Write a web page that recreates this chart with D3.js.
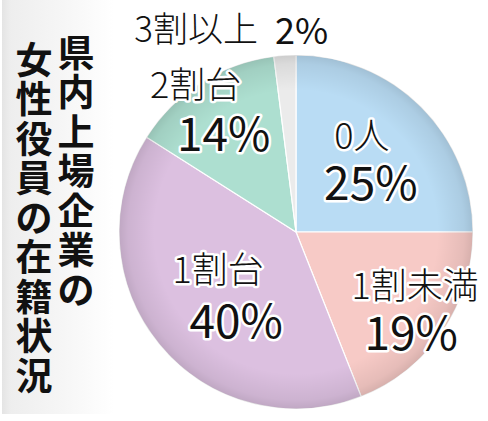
<!DOCTYPE html>
<html>
<head>
<meta charset="utf-8">
<script src="https://cdn.jsdelivr.net/npm/d3@7"></script>
<style>
  html, body { margin: 0; padding: 0; background: #fff; }
  svg { display: block; }
  text { font-family: "Noto Sans CJK JP", "Noto Sans", sans-serif; }
</style>
</head>
<body>
<div id="chart"></div>
<script>
// 県内上場企業の女性役員の在籍状況
const categories = ["0人", "1割未満", "1割台", "2割台", "3割以上"];
const shares = [25, 19, 40, 14, 2];
const sliceColors = ["#b9dcf4", "#f7cac6", "#dcc0e0", "#addfd0", "#ebebeb"];
const titleLines = ["県内上場企業の", "女性役員の在籍状況"];

const width = 488, height = 421;
const cx = 296, cy = 232, radius = 177;

// label layout: radius of anchor + shift of name / percent text
const labelLayout = [
  {r: 103, name: [-7, -26], pct: [2, 21]},
  {r: 138, name: [5, -27], pct: [1, 20]},
  {r: 92,  name: [-7, -24], pct: [11, 27]},
  {r: 150, name: [-20, -23], pct: [8, 26]},
  {r: 206, name: [-25, 0], pct: [-8, 2], inline: true}
];

const svg = d3.select("#chart").append("svg")
    .attr("width", width)
    .attr("height", height);

const defs = svg.append("defs");

// pale strip behind the title
let strip = defs.append("linearGradient").attr("id", "strip")
    .attr("x1", 0).attr("x2", 1).attr("y1", 0).attr("y2", 0);
strip.append("stop").attr("offset", "0%").attr("stop-color", "#e4e4e4");
strip.append("stop").attr("offset", "8%").attr("stop-color", "#eeeeee");
strip.append("stop").attr("offset", "55%").attr("stop-color", "#f6f6f6");
strip.append("stop").attr("offset", "100%").attr("stop-color", "#ffffff");

svg.append("rect")
    .attr("x", 2).attr("y", 0)
    .attr("width", 112).attr("height", 414)
    .attr("fill", "url(#strip)");

// rim shading of the pie
let rim = defs.append("radialGradient").attr("id", "rim");
rim.append("stop").attr("offset", "80%").attr("stop-color", "#000").attr("stop-opacity", 0);
rim.append("stop").attr("offset", "95%").attr("stop-color", "#000").attr("stop-opacity", 0.07);
rim.append("stop").attr("offset", "100%").attr("stop-color", "#000").attr("stop-opacity", 0.13);

const data = categories.map((c, i) => ({cat: c, value: shares[i], color: sliceColors[i]}));

const pie = d3.pie()
    .value(d => d.value)
    .sort(null);

const arcs = pie(data);

const arc = d3.arc()
    .innerRadius(0)
    .outerRadius(radius);

const g = svg.append("g").attr("transform", `translate(${cx},${cy})`);

g.selectAll("path.slice")
  .data(arcs)
  .enter().append("path")
    .attr("class", "slice")
    .attr("d", arc)
    .attr("fill", d => d.data.color)
    .attr("stroke", "#ffffff")
    .attr("stroke-width", 1.2);

g.append("circle")
    .attr("r", radius)
    .attr("fill", "url(#rim)")
    .style("pointer-events", "none");

// labels
const labels = g.selectAll("g.label")
  .data(arcs)
  .enter().append("g")
    .attr("class", "label")
    .attr("transform", (d, i) => {
      let r = labelLayout[i].r;
      let c = d3.arc().innerRadius(r).outerRadius(r).centroid(d);
      return `translate(${c[0]},${c[1]})`;
    });

function haloText(sel) {
  sel.attr("fill", "#111")
     .attr("stroke", "#ffffff")
     .attr("stroke-width", 5)
     .attr("stroke-linejoin", "round")
     .attr("paint-order", "stroke")
     .attr("dominant-baseline", "central");
}

labels.append("text")
    .attr("x", (d, i) => labelLayout[i].name[0])
    .attr("y", (d, i) => labelLayout[i].name[1])
    .attr("text-anchor", (d, i) => labelLayout[i].inline ? "end" : "middle")
    .attr("font-size", (d, i) => labelLayout[i].inline ? 35 : 36)
    .attr("font-weight", 300)
    .text(d => d.data.cat)
    .call(haloText);

labels.append("text")
    .attr("x", (d, i) => labelLayout[i].pct[0])
    .attr("y", (d, i) => labelLayout[i].pct[1])
    .attr("text-anchor", (d, i) => labelLayout[i].inline ? "start" : "middle")
    .attr("font-size", (d, i) => labelLayout[i].inline ? 36 : 46)
    .attr("font-weight", 400)
    .text(d => d.data.value + "%")
    .call(haloText);

// vertical title, one glyph per line, right column first
const titleStep = 39.5, titleSize = 37;
const colX = [76, 34];
const colTop = [31, 38];

titleLines.forEach((line, li) => {
  svg.append("g").selectAll("text")
    .data(Array.from(line))
    .enter().append("text")
      .attr("x", colX[li])
      .attr("y", (ch, k) => colTop[li] + k * titleStep + titleStep / 2)
      .attr("text-anchor", "middle")
      .attr("dominant-baseline", "central")
      .attr("font-size", titleSize)
      .attr("font-weight", 700)
      .attr("fill", "#111")
      .text(ch => ch);
});
</script>
</body>
</html>
